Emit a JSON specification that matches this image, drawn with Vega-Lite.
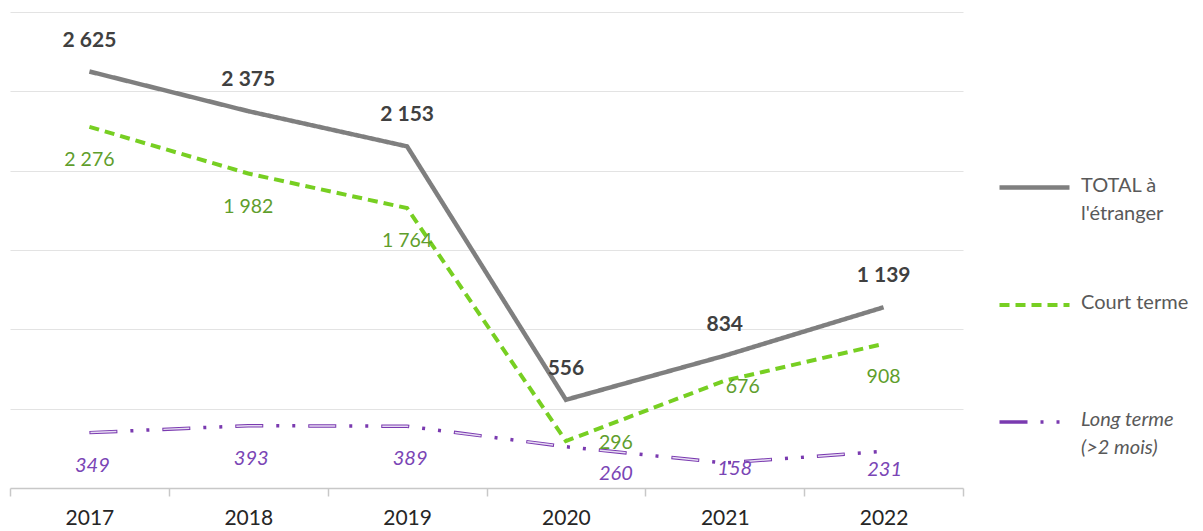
{
  "$schema": "https://vega.github.io/schema/vega-lite/v6.json",
  "width": 953,
  "height": 476,
  "autosize": {"type": "none"},
  "padding": {"left": 10, "top": 12, "right": 240, "bottom": 43},
  "background": "white",
  "config": {
    "view": {"stroke": null},
    "font": "Lato",
    "text": {"font": "Lato"},
    "locale": {
      "number": {"decimal": ",", "thousands": "\u00a0", "grouping": [3], "currency": ["", " €"]}
    }
  },
  "data": {
    "values": [
      {"year": "2017", "series": "TOTAL à l'étranger", "value": 2625},
      {"year": "2018", "series": "TOTAL à l'étranger", "value": 2375},
      {"year": "2019", "series": "TOTAL à l'étranger", "value": 2153},
      {"year": "2020", "series": "TOTAL à l'étranger", "value": 556},
      {"year": "2021", "series": "TOTAL à l'étranger", "value": 834},
      {"year": "2022", "series": "TOTAL à l'étranger", "value": 1139},
      {"year": "2017", "series": "Court terme", "value": 2276},
      {"year": "2018", "series": "Court terme", "value": 1982},
      {"year": "2019", "series": "Court terme", "value": 1764},
      {"year": "2020", "series": "Court terme", "value": 296},
      {"year": "2021", "series": "Court terme", "value": 676},
      {"year": "2022", "series": "Court terme", "value": 908},
      {"year": "2017", "series": "Long terme (>2 mois)", "value": 349},
      {"year": "2018", "series": "Long terme (>2 mois)", "value": 393},
      {"year": "2019", "series": "Long terme (>2 mois)", "value": 389},
      {"year": "2020", "series": "Long terme (>2 mois)", "value": 260},
      {"year": "2021", "series": "Long terme (>2 mois)", "value": 158},
      {"year": "2022", "series": "Long terme (>2 mois)", "value": 231}
    ]
  },
  "encoding": {
    "x": {
      "field": "year", "type": "ordinal", "bandPosition": 0.5,
      "scale": {"type": "band", "paddingInner": 0, "paddingOuter": 0},
      "axis": {
        "title": null, "labelAngle": 0, "labelFont": "Lato", "labelFontSize": 21,
        "labelColor": "#262626", "labelPadding": 11, "domainColor": "#c8c8c8",
        "domainWidth": 1.5, "tickColor": "#c8c8c8", "tickWidth": 1.5, "tickSize": 8,
        "tickBand": "extent", "grid": false
      }
    },
    "y": {
      "field": "value", "type": "quantitative",
      "scale": {"domain": [0, 3000], "nice": false},
      "axis": {
        "title": null, "labels": false, "ticks": false, "domain": false,
        "values": [500, 1000, 1500, 2000, 2500, 3000],
        "gridColor": "#e3e3e3", "gridWidth": 1
      }
    }
  },
  "layer": [
    {
      "mark": {"type": "line", "strokeCap": "butt", "strokeJoin": "miter"},
      "encoding": {
        "color": {
          "field": "series", "type": "nominal",
          "scale": {
            "domain": ["TOTAL à l'étranger", "Court terme", "Long terme (>2 mois)"],
            "range": ["#7f7f7f", "#77cf22", "#7a3ab0"]
          },
          "legend": {
            "title": null, "orient": "none", "legendX": 987, "legendY": 138,
            "symbolType": "stroke", "symbolSize": 4900, "symbolStrokeWidth": 4,
            "labelFont": "Lato", "labelFontSize": 20, "labelColor": "#595959",
            "labelOffset": 9, "labelLimit": 300, "rowPadding": 44,
            "labelExpr": "datum.label === \"TOTAL à l'étranger\" ? [\"TOTAL à\", \"l'étranger\"] : datum.label === \"Long terme (>2 mois)\" ? [\"Long terme\", \"(>2 mois)\"] : [datum.label, \" \"]",
            "labelBaseline": "top",
            "encode": {
              "labels": {
                "update": {
                  "fontStyle": {"signal": "datum.label === 'Court terme' || datum.label === \"TOTAL à l'étranger\" ? 'normal' : 'italic'"},
                  "dy": {"value": -12},
                  "lineHeight": {"value": 28}
                }
              }
            }
          }
        },
        "strokeDash": {
          "field": "series", "type": "nominal",
          "scale": {
            "domain": ["TOTAL à l'étranger", "Court terme", "Long terme (>2 mois)"],
            "range": [[1, 0], [10, 6], [28, 13, 3, 13, 3, 13]]
          },
          "legend": null
        },
        "strokeWidth": {
          "field": "series", "type": "nominal",
          "scale": {
            "domain": ["TOTAL à l'étranger", "Court terme", "Long terme (>2 mois)"],
            "range": [4.5, 3.5, 4]
          },
          "legend": null
        }
      }
    },
    {
      "transform": [{"filter": "datum.series === 'Long terme (>2 mois)'"}],
      "mark": {"type": "line", "color": "#e6dcf2", "strokeWidth": 1.5, "strokeDash": [26, 47], "strokeDashOffset": 72}
    },
    {
      "transform": [{"filter": "datum.series === \"TOTAL à l'étranger\""}],
      "mark": {"type": "text", "dy": -31, "fontSize": 21, "fontWeight": "bold", "color": "#404040", "font": "Lato"},
      "encoding": {"text": {"field": "value", "type": "quantitative", "format": ",d"}}
    },
    {
      "transform": [{"filter": "datum.series === 'Court terme' && datum.year !== '2020' && datum.year !== '2021'"}],
      "mark": {"type": "text", "dy": 33, "fontSize": 19.5, "color": "#5f9e2c", "font": "Lato"},
      "encoding": {"text": {"field": "value", "type": "quantitative", "format": ",d"}}
    },
    {
      "transform": [{"filter": "datum.series === 'Court terme' && datum.year === '2020'"}],
      "mark": {"type": "text", "dx": 50, "dy": 2, "fontSize": 19.5, "color": "#5f9e2c", "font": "Lato"},
      "encoding": {"text": {"field": "value", "type": "quantitative", "format": ",d"}}
    },
    {
      "transform": [{"filter": "datum.series === 'Court terme' && datum.year === '2021'"}],
      "mark": {"type": "text", "dx": 18, "dy": 6, "fontSize": 19.5, "color": "#5f9e2c", "font": "Lato"},
      "encoding": {"text": {"field": "value", "type": "quantitative", "format": ",d"}}
    },
    {
      "transform": [{"filter": "datum.series === 'Long terme (>2 mois)' && datum.year < '2020'"}],
      "mark": {"type": "text", "dy": 33, "dx": 3, "fontSize": 20, "fontStyle": "italic", "color": "#7a45b5", "font": "Lato"},
      "encoding": {"text": {"field": "value", "type": "quantitative", "format": ",d"}}
    },
    {
      "transform": [{"filter": "datum.series === 'Long terme (>2 mois)' && datum.year === '2020'"}],
      "mark": {"type": "text", "dx": 50, "dy": 27, "fontSize": 20, "fontStyle": "italic", "color": "#7a45b5", "font": "Lato"},
      "encoding": {"text": {"field": "value", "type": "quantitative", "format": ",d"}}
    },
    {
      "transform": [{"filter": "datum.series === 'Long terme (>2 mois)' && datum.year === '2021'"}],
      "mark": {"type": "text", "dx": 10, "dy": 6, "fontSize": 20, "fontStyle": "italic", "color": "#7a45b5", "font": "Lato"},
      "encoding": {"text": {"field": "value", "type": "quantitative", "format": ",d"}}
    },
    {
      "transform": [{"filter": "datum.series === 'Long terme (>2 mois)' && datum.year === '2022'"}],
      "mark": {"type": "text", "dx": 1, "dy": 19, "fontSize": 20, "fontStyle": "italic", "color": "#7a45b5", "font": "Lato"},
      "encoding": {"text": {"field": "value", "type": "quantitative", "format": ",d"}}
    }
  ]
}
